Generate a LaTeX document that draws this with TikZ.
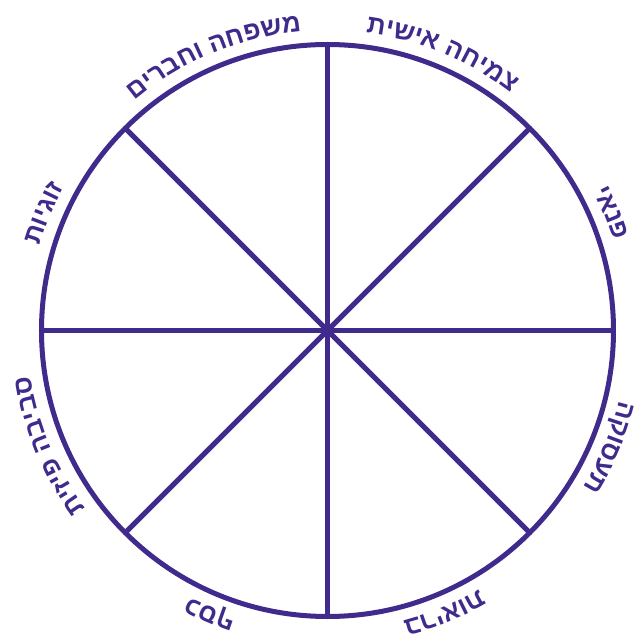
\documentclass[tikz,border=0pt]{standalone}
\usepackage{fontspec}
\usepackage{xcolor}
\definecolor{wheelpurple}{RGB}{64,42,140}
\newfontfamily\hebfont[Script=Hebrew]{Liberation Sans}
\protected\def\lblfont{\hebfont\fontsize{26}{26}\selectfont\bfseries}
% letters go along the arc one by one, so the reading order is turned round here
\ExplSyntaxOn
\cs_new:Npn \hebrev \beginR #1 \endR { \tl_reverse:n {#1} }
\ExplSyntaxOff
\usepackage{tikz}
\usetikzlibrary{decorations.text}

\begin{document}
\begin{tikzpicture}[
      x=1pt, y=1pt,
      wheel/.style = {
        circle, draw=wheelpurple, line width=5pt,
        minimum size=572pt, inner sep=0pt, outer sep=0pt
      },
      spoke/.style = {draw=wheelpurple, line width=5pt},
      lbl/.style   = {
        decorate,
        decoration={text along path, text align=center,
                    text color=wheelpurple,
                    text/.expanded={|\lblfont|\hebrev#1}}
      }
    ]

      \useasboundingbox (-327.5,-312.5) rectangle (309.5,330.5);

      % ===================== Wheel =====================
      \node[wheel] (wheel) at (0,0) {};
      \coordinate (hub) at (wheel.center);

      % ===================== Spokes =====================
      \draw[spoke] (wheel.north) -- (wheel.south);
      \draw[spoke] (wheel.west)  -- (wheel.east);
      \draw[spoke] (wheel.45)    -- (wheel.225);
      \draw[spoke] (wheel.135)   -- (wheel.315);

      % ===================== Labels (clockwise round the rim) =====================
      \path[lbl={\beginR צמיחה אישית\endR}] ([shift={(hub)}]127.5:300) arc[start angle=127.5, end angle=7.5, radius=300];
      \path[lbl={\beginR פנאי\endR}] ([shift={(hub)}]82.5:300) arc[start angle=82.5, end angle=-37.5, radius=300];
      \path[lbl={\beginR תעסוקה\endR}] ([shift={(hub)}]37.5:300) arc[start angle=37.5, end angle=-82.5, radius=300];
      \path[lbl={\beginR בריאות\endR}] ([shift={(hub)}]-7.5:300) arc[start angle=-7.5, end angle=-127.5, radius=300];
      \path[lbl={\beginR כסף\endR}] ([shift={(hub)}]-52.5:300) arc[start angle=-52.5, end angle=-172.5, radius=300];
      \path[lbl={\beginR סביבה פיזית\endR}] ([shift={(hub)}]-97.5:300) arc[start angle=-97.5, end angle=-217.5, radius=300];
      \path[lbl={\beginR זוגיות\endR}] ([shift={(hub)}]-142.5:300) arc[start angle=-142.5, end angle=-262.5, radius=300];
      \path[lbl={\beginR משפחה וחברים\endR}] ([shift={(hub)}]172.5:300) arc[start angle=172.5, end angle=52.5, radius=300];

    \end{tikzpicture}
\end{document}
